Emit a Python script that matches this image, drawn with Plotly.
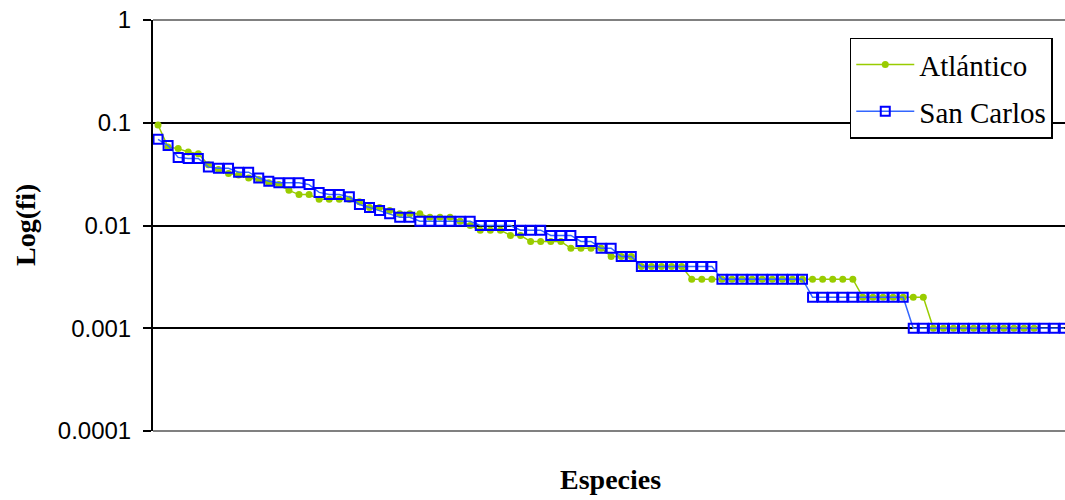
import plotly.graph_objects as go

# Relative frequencies (fi) of each species, ranked
atlantico = [0.095, 0.058, 0.056, 0.052, 0.050, 0.039, 0.035, 0.032, 0.031, 0.029,
             0.028, 0.026, 0.025, 0.022, 0.020, 0.020, 0.018, 0.018, 0.018, 0.018,
             0.017, 0.015, 0.015, 0.014, 0.013, 0.013, 0.013, 0.012, 0.012, 0.012,
             0.011, 0.010, 0.009, 0.009, 0.009, 0.008, 0.008, 0.007, 0.007, 0.007,
             0.007, 0.006, 0.006, 0.006, 0.006, 0.005, 0.005, 0.005,
             0.004, 0.004, 0.004, 0.004, 0.004,
             0.003, 0.003, 0.003, 0.003, 0.003, 0.003, 0.003, 0.003, 0.003,
             0.003, 0.003, 0.003, 0.003, 0.003, 0.003, 0.003, 0.003,
             0.002, 0.002, 0.002, 0.002, 0.002, 0.002, 0.002,
             0.001, 0.001, 0.001, 0.001, 0.001, 0.001, 0.001, 0.001, 0.001, 0.001, 0.001]

san_carlos = [0.069, 0.060, 0.046, 0.045, 0.045, 0.037, 0.036, 0.036, 0.033, 0.033,
              0.029, 0.027, 0.026, 0.026, 0.026, 0.025, 0.021, 0.020, 0.020, 0.019,
              0.016, 0.015, 0.014, 0.013, 0.012, 0.012,
              0.011, 0.011, 0.011, 0.011, 0.011, 0.011,
              0.010, 0.010, 0.010, 0.010,
              0.009, 0.009, 0.009,
              0.008, 0.008, 0.008,
              0.007, 0.007,
              0.006, 0.006,
              0.005, 0.005,
              0.004, 0.004, 0.004, 0.004, 0.004, 0.004, 0.004, 0.004,
              0.003, 0.003, 0.003, 0.003, 0.003, 0.003, 0.003, 0.003, 0.003,
              0.002, 0.002, 0.002, 0.002, 0.002, 0.002, 0.002, 0.002, 0.002, 0.002,
              0.001, 0.001, 0.001, 0.001, 0.001, 0.001, 0.001, 0.001,
              0.001, 0.001, 0.001, 0.001, 0.001, 0.001, 0.001, 0.001]

y_ticks = [0.0001, 0.001, 0.01, 0.1, 1]
y_tick_labels = ["0.0001", "0.001", "0.01", "0.1", "1"]

fig = go.Figure()
fig.add_trace(go.Scatter(
    x=list(range(len(atlantico))), y=atlantico, name="Atlántico",
    legendgroup="a", mode="lines+markers",
    line=dict(color="#99CC00", width=1.5),
    marker=dict(symbol="circle", size=7, color="#99CC00"),
))
fig.add_trace(go.Scatter(
    x=list(range(len(san_carlos))), y=san_carlos, name="San Carlos",
    legendgroup="b", mode="lines+markers",
    line=dict(color="#3366FF", width=1.5),
    marker=dict(symbol="square-open", size=9, color="#0000FF",
                line=dict(color="#0000FF", width=2)),
))

fig.update_layout(
    width=1065, height=500,
    margin=dict(l=153, r=0, t=20, b=69),
    paper_bgcolor="white", plot_bgcolor="white",
    font=dict(family="Liberation Sans, Arial", color="black"),
    showlegend=True,
    legend=dict(
        x=0.764, y=0.957, xanchor="left", yanchor="top",
        bgcolor="white", bordercolor="black", borderwidth=1.5,
        font=dict(family="Liberation Serif, Times New Roman", size=29, color="black"),
        itemwidth=58, traceorder="grouped", tracegroupgap=6,
    ),
    xaxis=dict(
        range=[-0.5, 90.07], showgrid=False, zeroline=False,
        showline=False, showticklabels=False, ticks="",
    ),
    yaxis=dict(
        type="log", range=[-4, 0],
        tickvals=y_ticks, ticktext=y_tick_labels,
        showgrid=True, gridcolor="black", gridwidth=2,
        showline=True, linecolor="black", linewidth=2,
        ticks="outside", ticklen=8, tickwidth=2, tickcolor="black",
        tickfont=dict(family="Liberation Sans, Arial", size=24, color="black"),
        ticklabelstandoff=7,
        zeroline=False,
    ),
    shapes=[
        dict(type="line", xref="paper", yref="paper", x0=0, x1=1, y0=1, y1=1,
             line=dict(color="#808080", width=2), layer="above"),
        dict(type="line", xref="paper", yref="paper", x0=0, x1=1, y0=0, y1=0,
             line=dict(color="#808080", width=2), layer="above"),
    ],
    annotations=[
        dict(text="<b>Log(fi)</b>", xref="paper", yref="paper", x=-0.1404, y=0.501,
             xanchor="center", yanchor="middle", textangle=-90, showarrow=False,
             font=dict(family="Liberation Serif, Times New Roman", size=28, color="black")),
        dict(text="<b>Especies</b>", xref="paper", yref="paper", x=0.502, y=-0.118,
             xanchor="center", yanchor="middle", showarrow=False,
             font=dict(family="Liberation Serif, Times New Roman", size=28, color="black")),
    ],
)

fig.write_html("out.html", config={"displayModeBar": False},
               post_script="document.body.style.margin='0';document.body.style.overflow='hidden';")
